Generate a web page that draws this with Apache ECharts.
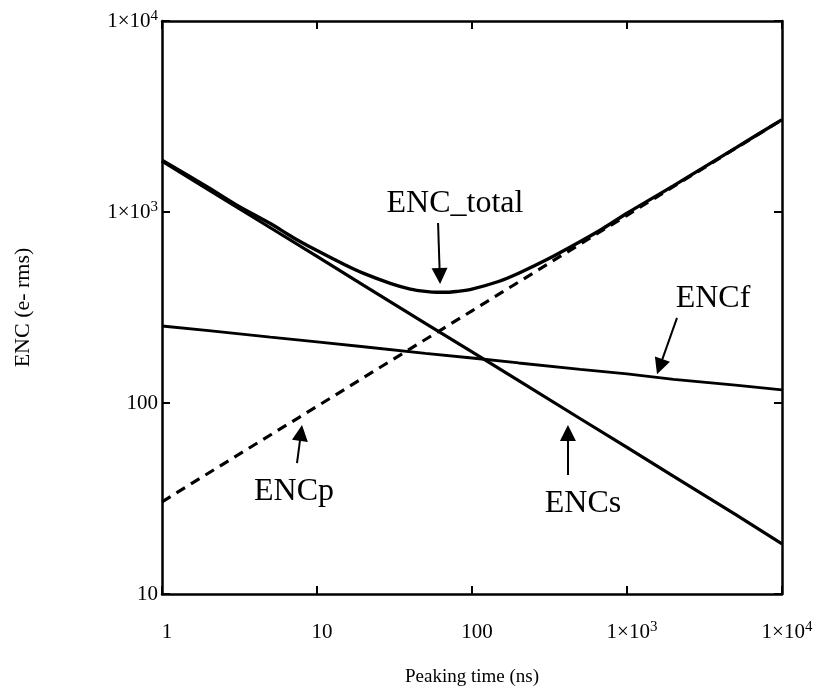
<!DOCTYPE html>
<html>
<head>
<meta charset="utf-8">
<script src="https://cdn.jsdelivr.net/npm/echarts@6/dist/echarts.min.js"></script>
<style>
html,body{margin:0;padding:0;background:#fff;}
#chart{width:813px;height:696px;}
</style>
</head>
<body>
<div id="chart"></div>
<script>
// Peaking time (ns) grid for the straight components
const tLines = [1, 2, 5, 10, 20, 50, 100, 200, 500, 1000, 2000, 5000, 10000];
const encS = [1849, 1307, 827, 585, 413, 261, 185, 131, 82.7, 58.5, 41.3, 26.1, 18.3];
const encF = [253, 239, 221, 209, 197, 182, 172, 162, 150, 142, 133, 124, 117];
const encP = [30.4, 43, 68, 96, 136, 215, 304, 430, 680, 961, 1360, 2150, 3040];
// Total curve
const tTotal = [1, 2, 3, 5, 7, 10, 15, 20, 30, 40, 50, 60, 70, 80, 100, 150, 200, 300, 500, 700, 1000, 2000, 5000, 10000];
const encTotal = [1866, 1340, 1093, 870, 736, 628, 531, 477, 422, 395, 384, 380, 380, 384, 395, 434, 478, 560, 701, 820, 985, 1375, 2160, 3045];

// tick labels
const xTickLabels = {1: '1', 10: '10', 100: '100', 1000: '1×10|3', 10000: '1×10|4'};
const yTickLabels = {10: '10', 100: '100', 1000: '1×10|3', 10000: '1×10|4'};

// annotations (data coordinates)
const annText = [
  {name: 'ENC_total', at: [77.7, 1102]},
  {name: 'ENCf', at: [3589, 351]},
  {name: 'ENCp', at: [7.11, 34.2]},
  {name: 'ENCs', at: [520, 29.9]}
];
const annArrows = [
  [[60.4, 875], [62.0, 462]],
  [[2102, 279], [1626, 155]],
  [[7.43, 48.5], [7.88, 69.7]],
  [[416, 42], [416, 69.7]]
];

const FONT = 'Liberation Serif';
function fmt(map) {
  return function (v) {
    const k = Math.round(v);
    const s = map[k];
    if (s === undefined) return '';
    if (s.indexOf('|') >= 0) {
      const p = s.split('|');
      return '{a|' + p[0] + '}{s|' + p[1] + '}';
    }
    return '{a|' + s + '}';
  };
}
const rich = {
  a: {fontFamily: FONT, fontSize: 21, color: '#000', lineHeight: 24},
  s: {fontFamily: FONT, fontSize: 15, color: '#000', verticalAlign: 'top', lineHeight: 24, padding: [0, 0, 10, 0]}
};
const lineAxis = {show: true, lineStyle: {color: '#000', width: 2.5}};
const tick = {show: true, inside: true, length: 8, lineStyle: {color: '#000', width: 2}};

const chart = echarts.init(document.getElementById('chart'), null, {renderer: 'canvas'});
function zip(a, b) { return a.map((x, i) => [x, b[i]]); }

const option = {
  backgroundColor: '#fff',
  animation: false,
  grid: {left: 162, right: 31, top: 21, bottom: 102, outerBoundsMode: 'none'},
  xAxis: [
    {type: 'log', logBase: 10, min: 1, max: 10000, interval: 1, position: 'bottom',
     axisLine: lineAxis, axisTick: tick, splitLine: {show: false}, minorTick: {show: false},
     axisLabel: {formatter: fmt(xTickLabels), rich: rich, margin: 26, padding: [0, 0, 0, 10]},
     name: 'Peaking time (ns)', nameLocation: 'middle', nameGap: 74,
     nameTextStyle: {fontFamily: FONT, fontSize: 19, color: '#000'}},
    {type: 'log', logBase: 10, min: 1, max: 10000, interval: 1, position: 'top',
     axisLine: lineAxis, axisTick: tick, splitLine: {show: false}, axisLabel: {show: false}}
  ],
  yAxis: [
    {type: 'log', logBase: 10, min: 10, max: 10000, interval: 1, position: 'left',
     axisLine: lineAxis, axisTick: tick, splitLine: {show: false}, minorTick: {show: false},
     axisLabel: {formatter: fmt(yTickLabels), rich: rich, margin: 4},
     name: 'ENC (e- rms)', nameLocation: 'middle', nameGap: 128, nameRotate: 90,
     nameTextStyle: {fontFamily: FONT, fontSize: 22, color: '#000'}},
    {type: 'log', logBase: 10, min: 10, max: 10000, interval: 1, position: 'right',
     axisLine: lineAxis, axisTick: tick, splitLine: {show: false}, axisLabel: {show: false}}
  ],
  series: [
    {name: 'ENCs', type: 'line', data: zip(tLines, encS), showSymbol: false,
     lineStyle: {color: '#000', width: 3.2}},
    {name: 'ENCf', type: 'line', data: zip(tLines, encF), showSymbol: false,
     lineStyle: {color: '#000', width: 2.8}},
    {name: 'ENCp', type: 'line', data: zip(tLines, encP), showSymbol: false,
     lineStyle: {color: '#000', width: 3.2, type: [10, 7]}},
    {name: 'ENC_total', type: 'line', data: zip(tTotal, encTotal), showSymbol: false, smooth: 0.3,
     lineStyle: {color: '#000', width: 3.4},
     markPoint: {
       silent: true, animation: false,
       symbol: 'rect', symbolSize: 1, itemStyle: {color: 'rgba(0,0,0,0)'},
       label: {show: true, position: 'inside', color: '#000', fontFamily: FONT, fontSize: 32,
               formatter: p => p.name},
       data: annText.map(a => ({name: a.name, coord: a.at}))
     },
     markLine: {
       silent: true, animation: false,
       symbol: ['none', 'triangle'], symbolSize: 16,
       label: {show: false},
       itemStyle: {color: '#000'},
       lineStyle: {color: '#000', width: 2, type: 'solid'},
       emphasis: {disabled: true},
       data: annArrows.map(a => [{coord: a[0]}, {coord: a[1]}])
     }}
  ]
};
chart.setOption(option);
</script>
</body>
</html>
